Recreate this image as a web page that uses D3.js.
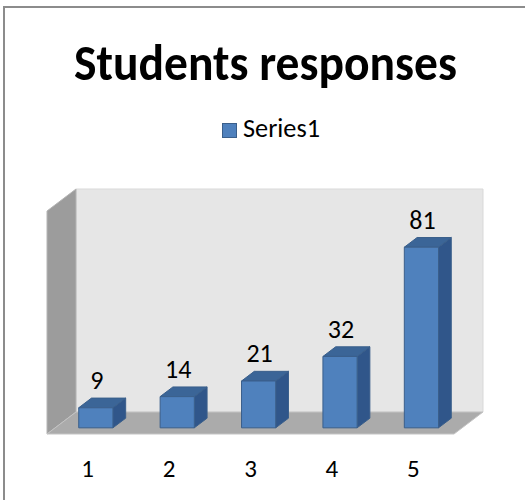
<!DOCTYPE html>
<html>
<head>
<meta charset="utf-8">
<script src="https://cdn.jsdelivr.net/npm/d3@7"></script>
<style>
  html, body { margin: 0; padding: 0; background: #fff; }
  text { font-family: Carlito, Calibri, Lato, sans-serif; }
</style>
</head>
<body>
<div id="chart"></div>
<script>
var categories = ['1', '2', '3', '4', '5'];
var values = [9, 14, 21, 32, 81];
var seriesName = 'Series1';
var chartTitle = 'Students responses';
var valueDomain = [0, 100];

(function(d3){

  var canvas_d = {width: 525, height: 500},
      plot = {left: 47, right: 454, bottom: 434, top: 211},
      depth = {dx: 29, dy: 22},
      barDepth = {from: 0.28, to: 0.72},
      colors = {front: '#4f81bd', top: '#3b6597', side: '#30568a', line: '#3a5f8b'},
      svg, x, y;

  svg = d3.select('#chart').append('svg')
      .attr('width', canvas_d.width)
      .attr('height', canvas_d.height);

  // chart frame (only left and top edges are inside the picture)
  svg.append('rect')
      .attr('x', 4).attr('y', 7)
      .attr('width', 700).attr('height', 700)
      .attr('fill', 'none')
      .attr('stroke', '#8c8c8c')
      .attr('stroke-width', 2);

  x = d3.scaleBand()
      .domain(categories)
      .range([plot.left, plot.right])
      .paddingInner(0.58)
      .paddingOuter(0.29);

  y = d3.scaleLinear()
      .domain(valueDomain)
      .range([plot.bottom, plot.top]);

  // project a point of the front plane back by a depth fraction f
  function pt(px, py, f) {
    return [px + depth.dx * f, py - depth.dy * f];
  }

  var line = d3.line();

  // walls and floor
  var y0 = y(valueDomain[0]), y1 = y(valueDomain[1]);

  svg.append('path')
      .attr('d', line([pt(plot.left, y1, 1), pt(plot.right, y1, 1), pt(plot.right, y0, 1), pt(plot.left, y0, 1)]) + 'Z')
      .attr('fill', '#e6e6e6')
      .attr('stroke', '#d9d9d9')
      .attr('stroke-width', 1);

  svg.append('path')
      .attr('d', line([pt(plot.left, y1, 0), pt(plot.left, y1, 1), pt(plot.left, y0, 1), pt(plot.left, y0, 0)]) + 'Z')
      .attr('fill', '#9c9c9c')
      .attr('stroke', '#b5b5b5')
      .attr('stroke-width', 1);

  svg.append('path')
      .attr('d', line([pt(plot.left, y0, 0), pt(plot.left, y0, 1), pt(plot.right, y0, 1), pt(plot.right, y0, 0)]) + 'Z')
      .attr('fill', '#ababab')
      .attr('stroke', '#c4c4c4')
      .attr('stroke-width', 1);

  // bars
  var bars = svg.selectAll('g.bar')
      .data(values)
    .enter().append('g')
      .attr('class', 'bar');

  function barPts(d, i) {
    var xl = x(categories[i]);
    return {xl: xl, xr: xl + x.bandwidth(), yt: y(d)};
  }

  // side face
  bars.append('path')
      .attr('d', function(d, i) {
        var b = barPts(d, i);
        return line([pt(b.xr, b.yt, barDepth.from), pt(b.xr, b.yt, barDepth.to),
                     pt(b.xr, y0, barDepth.to), pt(b.xr, y0, barDepth.from)]) + 'Z';
      })
      .attr('fill', colors.side)
      .attr('stroke', colors.line)
      .attr('stroke-width', 1);

  // top face
  bars.append('path')
      .attr('d', function(d, i) {
        var b = barPts(d, i);
        return line([pt(b.xl, b.yt, barDepth.from), pt(b.xl, b.yt, barDepth.to),
                     pt(b.xr, b.yt, barDepth.to), pt(b.xr, b.yt, barDepth.from)]) + 'Z';
      })
      .attr('fill', colors.top)
      .attr('stroke', colors.line)
      .attr('stroke-width', 1);

  // front face
  bars.append('path')
      .attr('d', function(d, i) {
        var b = barPts(d, i);
        return line([pt(b.xl, b.yt, barDepth.from), pt(b.xr, b.yt, barDepth.from),
                     pt(b.xr, y0, barDepth.from), pt(b.xl, y0, barDepth.from)]) + 'Z';
      })
      .attr('fill', colors.front)
      .attr('stroke', colors.line)
      .attr('stroke-width', 1);

  // data labels
  bars.append('text')
      .attr('x', function(d, i) { return pt(x(categories[i]) + x.bandwidth() / 2, 0, barDepth.from)[0] + 1; })
      .attr('y', function(d, i) { return pt(0, y(d), barDepth.to)[1] - 9; })
      .attr('text-anchor', 'middle')
      .attr('font-size', 26)
      .attr('fill', '#000')
      .text(function(d) { return d; });

  // category labels
  svg.selectAll('text.cat')
      .data(categories)
    .enter().append('text')
      .attr('class', 'cat')
      .attr('x', function(d) { return x(d) + x.bandwidth() / 2; })
      .attr('y', 477)
      .attr('text-anchor', 'middle')
      .attr('font-size', 25)
      .attr('fill', '#000')
      .text(function(d) { return d; });

  // title
  svg.append('text')
      .attr('x', 265.5)
      .attr('y', 80)
      .attr('text-anchor', 'middle')
      .attr('font-size', 51)
      .attr('font-weight', 'bold')
      .attr('textLength', 383)
      .attr('lengthAdjust', 'spacingAndGlyphs')
      .attr('fill', '#000')
      .text(chartTitle);

  // legend
  svg.append('rect')
      .attr('x', 222.5).attr('y', 123.5)
      .attr('width', 14).attr('height', 14)
      .attr('fill', colors.front)
      .attr('stroke', colors.line)
      .attr('stroke-width', 1);

  svg.append('text')
      .attr('x', 243)
      .attr('y', 137)
      .attr('font-size', 26)
      .attr('textLength', 77)
      .attr('lengthAdjust', 'spacingAndGlyphs')
      .attr('fill', '#000')
      .text(seriesName);

})(d3);
</script>
</body>
</html>
